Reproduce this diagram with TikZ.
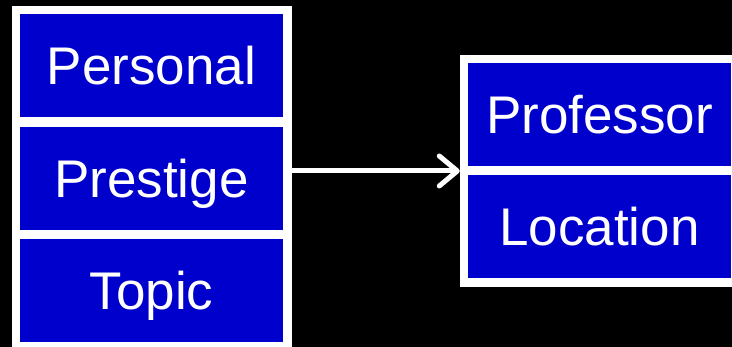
\documentclass[tikz,border=0pt]{standalone}
\usepackage{fontspec}
\setmainfont{Liberation Sans}
\usetikzlibrary{arrows.meta}
\definecolor{boxblue}{HTML}{0000CC}
\begin{document}
\begin{tikzpicture}[x=1pt,y=1pt,
  frame/.style={fill=white, draw=none, inner sep=0pt, anchor=center},
  cell/.style={fill=boxblue, draw=none, inner sep=0pt, minimum width=263pt, minimum height=103pt,
    text=white, font=\fontsize{53}{60}\selectfont, text height=38pt, text depth=-4pt},
  link/.style={draw=white, line width=5pt, -{Straight Barb[round, length=18pt, width=30pt]}}]
\fill[black] (0,0) rectangle (732,347);
\useasboundingbox (0,0) rectangle (732,347);
\clip (0,0) rectangle (732,347);
\node[frame, minimum width=280pt, minimum height=346pt] (leftframe) at (152,168) {};
\node[frame, minimum width=280pt, minimum height=232pt] (rightframe) at (600,176) {};
\node[cell] (personal) at (151.5,281) {Personal};
\node[cell] (prestige) at (151.5,168.5) {Prestige};
\node[cell] (topic) at (151.5,56) {Topic};
\node[cell] (professor) at (599.5,232) {Professor};
\node[cell] (location) at (599.5,120.5) {Location};
\draw[link] (leftframe.east |- rightframe.west) -- (rightframe.west);
\end{tikzpicture}
\end{document}
